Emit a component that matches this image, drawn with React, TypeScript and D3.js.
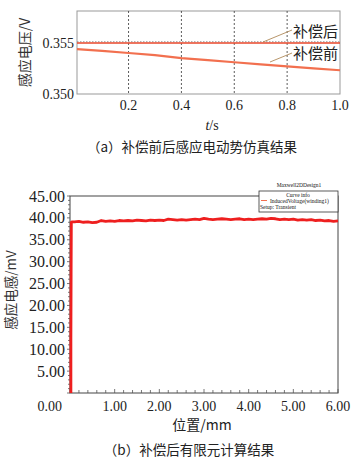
import React from "react";
import * as d3 from "d3";

// (a) induced voltage before / after compensation
const timeTicks = [0.2, 0.4, 0.6, 0.8, 1.0];
const voltTicks = [0.35, 0.355];
const tSamples = [0.005, 0.1, 0.2, 0.3, 0.4, 0.5, 0.6, 0.7, 0.8, 0.9, 1.0];
const voltBefore = [0.35438, 0.3542, 0.354, 0.3538, 0.3535, 0.3533, 0.3531, 0.3529, 0.3527, 0.3525, 0.35232];
const voltAfter = [0.35497, 0.35497, 0.35497, 0.35497, 0.35497, 0.35497, 0.35497, 0.35497, 0.35497, 0.35497, 0.35497];

// (b) FEM result after compensation
const posTicks = [0, 1, 2, 3, 4, 5, 6];
const inductTicks = [5, 10, 15, 20, 25, 30, 35, 40, 45];
const posSamples = [
  0.02, 0.02, 0.025, 0.03, 0.05,
  0.1, 0.2, 0.3, 0.4, 0.5, 0.6, 0.7, 0.8, 0.9, 1.0,
  1.1, 1.2, 1.3, 1.4, 1.5, 1.6, 1.7, 1.8, 1.9, 2.0,
  2.1, 2.2, 2.3, 2.4, 2.5, 2.6, 2.7, 2.8, 2.9, 3.0,
  3.1, 3.2, 3.3, 3.4, 3.5, 3.6, 3.7, 3.8, 3.9, 4.0,
  4.1, 4.2, 4.3, 4.4, 4.5, 4.6, 4.7, 4.8, 4.9, 5.0,
  5.1, 5.2, 5.3, 5.4, 5.5, 5.6, 5.7, 5.8, 5.9, 6.0,
];
const inductValues = [
  0, 12, 27, 39.0, 39.1,
  39.1, 39.2, 39.0, 39.1, 38.9, 39.0, 39.4, 39.2, 39.3, 39.2,
  39.4, 39.3, 39.4, 39.3, 39.5, 39.4, 39.3, 39.5, 39.4, 39.5,
  39.4, 39.7, 39.6, 39.5, 39.6, 39.5, 39.6, 39.7, 39.6, 39.9,
  39.7, 39.6, 39.7, 39.8, 39.7, 39.6, 39.7, 39.8, 39.6, 39.7,
  39.6, 39.7, 39.8, 39.7, 39.9, 39.8, 39.6, 39.7, 39.6, 39.7,
  39.5, 39.6, 39.5, 39.6, 39.4, 39.5, 39.3, 39.4, 39.2, 39.3,
];

const serif = "'Liberation Serif', 'Noto Sans CJK SC', serif";
const cjk = "'Noto Sans CJK SC', sans-serif";

const ChartA: React.FC = () => {
  const x = d3.scaleLinear().domain([0.005, 1]).range([77, 340]);
  const y = d3.scaleLinear().domain([0.35, 0.3581]).range([94, 11]);
  const line = d3
    .line<number>()
    .x((_, i) => x(tSamples[i]))
    .y((d) => y(d));
  const [x0, x1] = x.range();
  const [yb, yt] = y.range();

  return (
    <g>
      <rect x={x0} y={yt} width={x1 - x0} height={yb - yt} fill="white" stroke="#999" strokeWidth={1} />
      {/* vertical grid */}
      {timeTicks.slice(0, -1).map((t) => (
        <line key={t} x1={x(t)} x2={x(t)} y1={yt} y2={yb} stroke="#333" strokeWidth={0.8} strokeDasharray="2,2" />
      ))}
      {/* 0.355 grid */}
      <line x1={x0} x2={x1} y1={y(0.355) - 1} y2={y(0.355) - 1} stroke="#999" strokeWidth={1} strokeDasharray="1.5,1.5" />

      <path d={line(voltBefore) ?? ""} fill="none" stroke="#f2704f" strokeWidth={2.2} />
      <path d={line(voltAfter) ?? ""} fill="none" stroke="#e8472b" strokeWidth={1.6} />

      {/* y ticks */}
      {voltTicks.map((v) => (
        <text key={v} x={74} y={y(v) + 5} textAnchor="end" fontFamily={serif} fontSize={14} fill="#222">
          {v.toFixed(3)}
        </text>
      ))}
      {/* x ticks */}
      {timeTicks.map((t) => (
        <text key={t} x={x(t)} y={110} textAnchor="middle" fontFamily={serif} fontSize={14} fill="#222">
          {t.toFixed(1)}
        </text>
      ))}

      {/* leaders + labels */}
      <line x1={263} y1={42} x2={292} y2={30} stroke="#b08a5a" strokeWidth={0.9} />
      <line x1={270} y1={62} x2={292} y2={53} stroke="#b08a5a" strokeWidth={0.9} />
      <text x={293} y={37} fontFamily={cjk} fontSize={15} fill="#222">补偿后</text>
      <text x={293} y={59} fontFamily={cjk} fontSize={15} fill="#222">补偿前</text>

      <text
        transform={`translate(30, ${(yt + yb) / 2}) rotate(-90)`}
        textAnchor="middle"
        fontFamily={cjk}
        fontSize={14}
        fill="#333"
      >
        感应电压/V
      </text>
      <text x={212} y={130} textAnchor="middle" fontFamily={serif} fontSize={14} fill="#222">
        <tspan fontStyle="italic">t</tspan>/s
      </text>
      <text x={192} y={152} textAnchor="middle" fontFamily={cjk} fontSize={13.5} fill="#222">
        （a）补偿前后感应电动势仿真结果
      </text>
    </g>
  );
};

const ChartB: React.FC = () => {
  const x = d3.scaleLinear().domain([0, 6]).range([70, 338]);
  const y = d3.scaleLinear().domain([0, 45]).range([393, 196]);
  const line = d3
    .line<number>()
    .x((_, i) => x(posSamples[i]))
    .y((d) => y(d));
  const [x0, x1] = x.range();
  const [yb, yt] = y.range();
  const minorY = d3.range(0, 46, 1);
  const minorX = d3.range(0, 6.01, 0.2);

  return (
    <g>
      <rect x={x0} y={yt} width={x1 - x0} height={yb - yt} fill="white" stroke="#444" strokeWidth={1} />
      {minorY.map((v) => (
        <line key={v} x1={x0 - (v % 5 === 0 ? 3 : 2)} x2={x0} y1={y(v)} y2={y(v)} stroke="#555" strokeWidth={0.8} />
      ))}
      {minorX.map((v) => (
        <line key={v} x1={x(v)} x2={x(v)} y1={yb} y2={yb - (Math.abs(v - Math.round(v)) < 0.01 ? 4 : 3)} stroke="#555" strokeWidth={0.8} />
      ))}

      <path d={line(inductValues) ?? ""} fill="none" stroke="#ee1f1f" strokeWidth={2.8} strokeLinejoin="round" />

      {inductTicks.map((v) => (
        <text key={v} x={65} y={y(v) + 5.5} textAnchor="end" fontFamily={serif} fontSize={16} fill="#222">
          {v.toFixed(2)}
        </text>
      ))}
      {posTicks.map((v) => (
        <text
          key={v}
          x={v === 0 ? x(v) - 8 : x(v)}
          y={411}
          textAnchor={v === 0 ? "end" : "middle"}
          fontFamily={serif}
          fontSize={14}
          fill="#222"
        >
          {v.toFixed(2)}
        </text>
      ))}

      {/* legend */}
      <text x={299} y={187} textAnchor="middle" fontFamily={serif} fontSize={5.5} fill="#111">Maxwell2DDesign1</text>
      <rect x={259} y={191} width={79} height={21} fill="white" stroke="#333" strokeWidth={0.8} />
      <text x={298} y={196.5} textAnchor="middle" fontFamily={serif} fontSize={5.5} fill="#111">Curve info</text>
      <line x1={261} x2={267} y1={200.5} y2={200.5} stroke="#f2704f" strokeWidth={1} />
      <text x={270} y={202.5} fontFamily={serif} fontSize={5.5} fill="#111">InducedVoltage(winding1)</text>
      <text x={260} y={208.5} fontFamily={serif} fontSize={5.5} fill="#111">Setup: Transient</text>

      <text
        transform={`translate(16, 290) rotate(-90)`}
        textAnchor="middle"
        fontFamily={cjk}
        fontSize={13.5}
        fill="#333"
      >
        感应电感/mV
      </text>
      <text x={202} y={430} textAnchor="middle" fontFamily={cjk} fontSize={14} fill="#222">
        位置/mm
      </text>
      <text x={189} y={455} textAnchor="middle" fontFamily={cjk} fontSize={13.5} fill="#222">
        （b）补偿后有限元计算结果
      </text>
    </g>
  );
};

export default function App() {
  return (
    <svg
      width={360}
      height={461}
      style={{ position: "absolute", left: 0, top: 0, background: "white" }}
    >
      <rect width={360} height={461} fill="white" />
      <ChartA />
      <ChartB />
    </svg>
  );
}
